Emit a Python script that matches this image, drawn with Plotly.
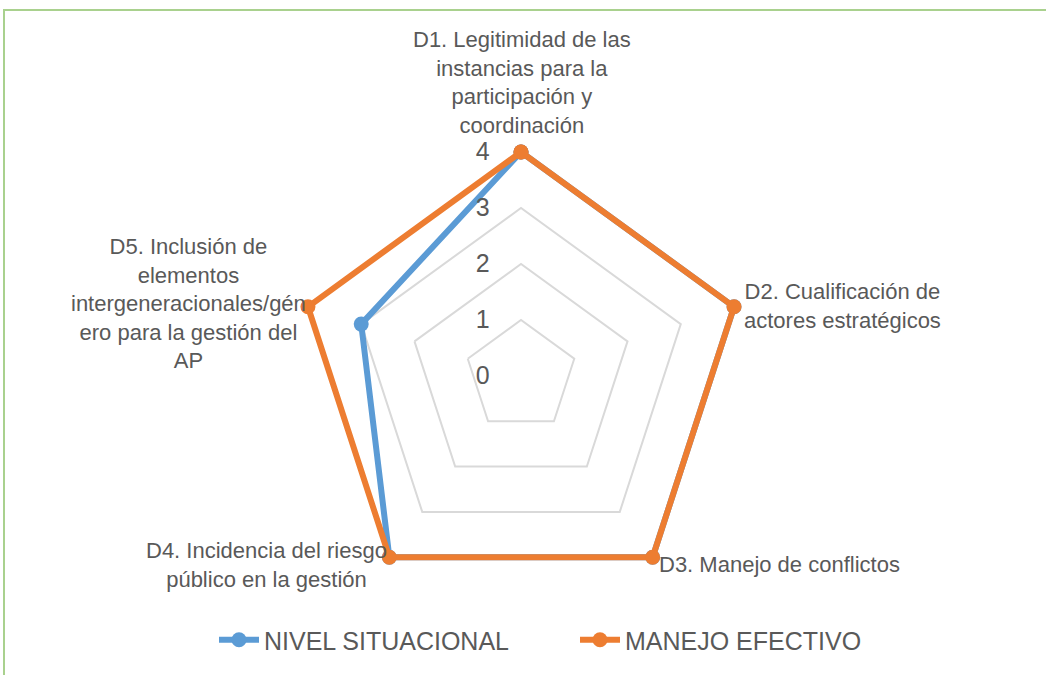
import plotly.graph_objects as go

# data
categories = [
    'D1. Legitimidad de las<br>instancias para la<br>participación y<br>coordinación',
    'D2. Cualificación de<br>actores estratégicos',
    'D3. Manejo de conflictos',
    'D4. Incidencia del riesgo<br>público en la gestión',
    'D5. Inclusión de<br>elementos<br>intergeneracionales/gén<br>ero para la gestión del<br>AP',
]
nivel_situacional = [4, 4, 4, 4, 3]
manejo_efectivo = [4, 4, 4, 4, 4]
radial_ticks = [0, 1, 2, 3, 4]

W, H = 1046, 675
label_font = 'Liberation Sans Narrow, Arial Narrow, Liberation Sans, Arial'
grey_text = '#595959'
blue = '#5B9BD5'
orange = '#ED7D31'

# pixel centres of the category labels in the reference
label_pos = [(522, 82), (842, 306), (779, 564), (266, 565), (188, 304)]


def px(x, y):
    return x / W, 1 - y / H


def closed(vals):
    return vals + vals[:1]


fig = go.Figure()
for name, vals, colour in [('NIVEL SITUACIONAL', nivel_situacional, blue),
                           ('MANEJO EFECTIVO', manejo_efectivo, orange)]:
    fig.add_trace(go.Scatterpolar(
        r=closed(vals),
        theta=closed(categories),
        mode='lines+markers',
        name=name,
        line={'color': colour, 'width': 6},
        marker={'color': colour, 'size': 15},
        cliponaxis=False,
    ))

# centre and scale of the radar in reference pixels; a little headroom
# past 4 so the outer line is not clipped
r_max = 4.1
cx, cy = 521, 376
rad = 56 * r_max
fig.update_layout(
    width=W, height=H,
    margin={'l': 0, 'r': 0, 't': 0, 'b': 0},
    paper_bgcolor='white',
    plot_bgcolor='white',
    polar={
        'domain': {'x': [(cx - rad) / W, (cx + rad) / W],
                   'y': [(H - cy - rad) / H, (H - cy + rad) / H]},
        'bgcolor': 'white',
        'gridshape': 'linear',
        'radialaxis': {
            'range': [0, r_max],
            'tickvals': radial_ticks,
            'angle': 90,
            'tickangle': 90,
            'side': 'counterclockwise',
            'showline': False,
            'ticks': 'outside',
            'ticklen': 22,
            'tickcolor': 'rgba(0,0,0,0)',
            'gridcolor': '#D9D9D9',
            'gridwidth': 1.5,
            'tickfont': {'family': 'Liberation Sans, Arial', 'size': 25, 'color': grey_text},
        },
        'angularaxis': {
            'type': 'category',
            'categoryarray': categories,
            'rotation': 90,
            'direction': 'clockwise',
            'showticklabels': False,
            'ticks': '',
            'showline': False,
            'showgrid': False,
        },
    },
    legend={
        'orientation': 'h',
        'x': 214 / W, 'xanchor': 'left',
        'y': 1 - 640 / H, 'yanchor': 'middle',
        'font': {'family': label_font, 'size': 25, 'color': grey_text},
        'itemwidth': 40,
        'entrywidth': 306,
    },
)

for text, (x, y) in zip(categories, label_pos):
    ax, ay = px(x, y)
    fig.add_annotation(x=ax, y=ay, xref='paper', yref='paper', text=text,
                       showarrow=False, xanchor='center', yanchor='middle',
                       align='center',
                       font={'family': label_font, 'size': 22, 'color': grey_text})

# green frame around the chart area
fig.add_shape(type='rect', xref='paper', yref='paper',
              x0=4 / W, x1=1.01, y0=-0.01, y1=1 - 10 / H,
              line={'color': '#A9D18E', 'width': 2})

# drop the browser's default body margin so the figure sits at 0,0
fig.write_html('out.html', config={'displayModeBar': False},
               post_script="document.body.style.margin='0';")
